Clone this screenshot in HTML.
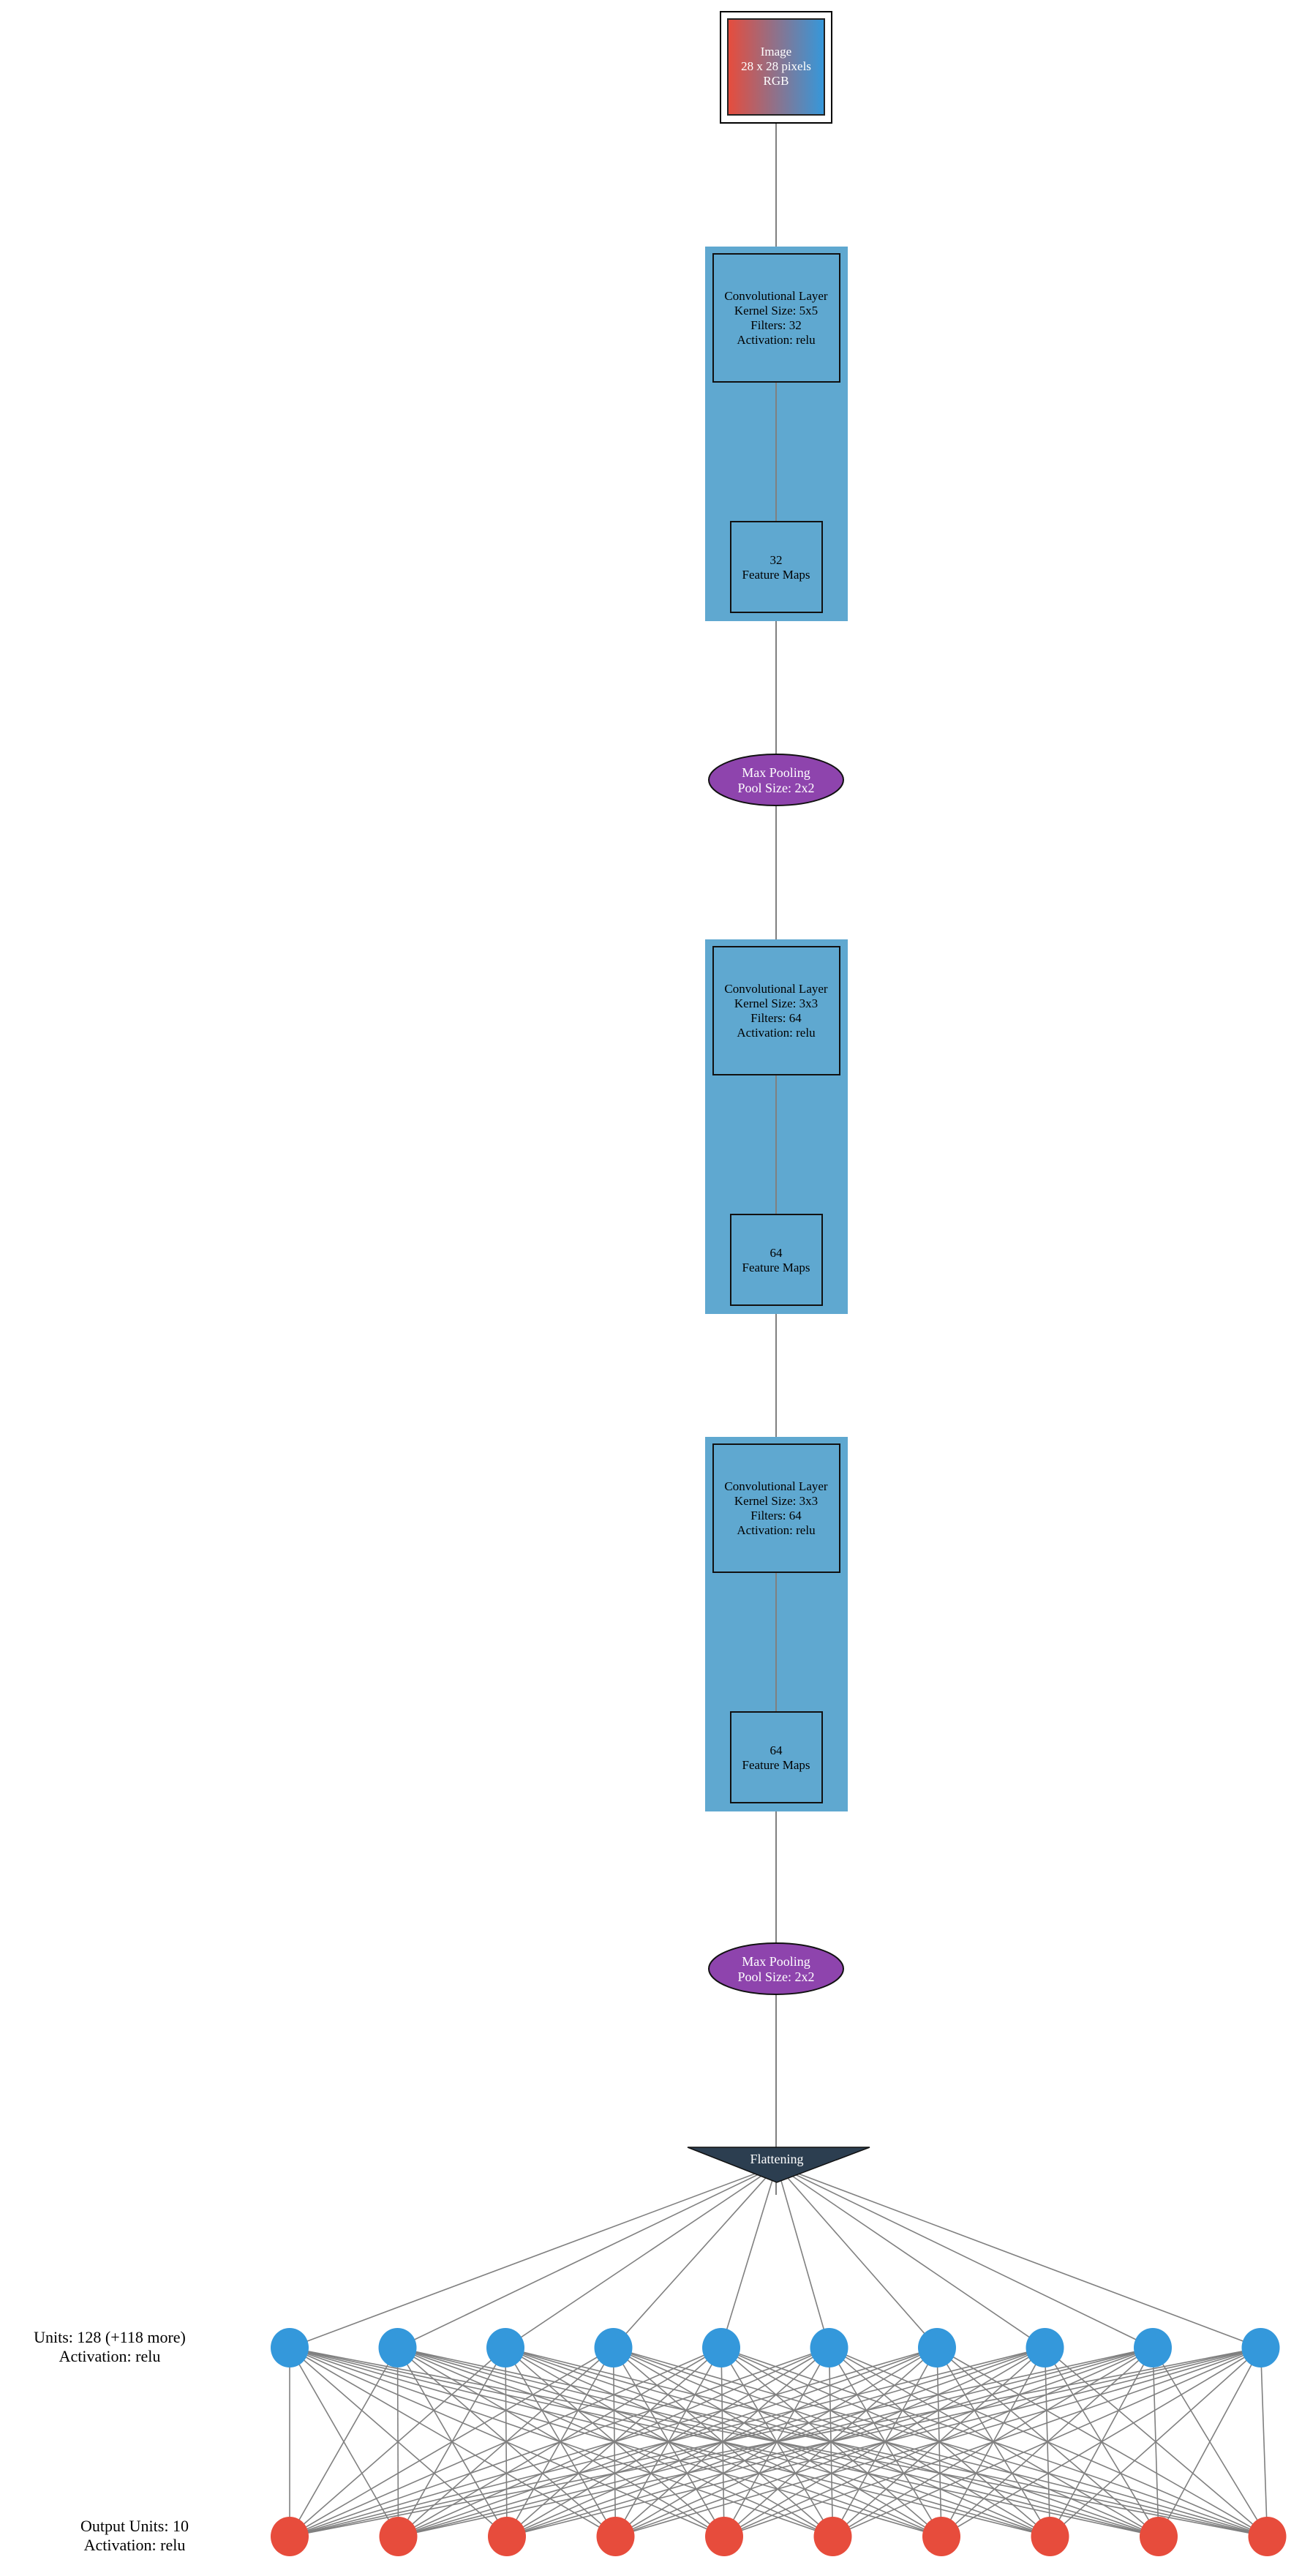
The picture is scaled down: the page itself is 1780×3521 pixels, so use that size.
<!DOCTYPE html>
<html><head><meta charset="utf-8"><style>
html,body{margin:0;padding:0;background:#fff}
svg{display:block}
text{font-family:"Liberation Serif",serif;text-anchor:middle}
</style></head><body>
<svg width="1780" height="3521" viewBox="0 0 1780 3521" xmlns="http://www.w3.org/2000/svg">
<defs>
<linearGradient id="g" x1="0" x2="1" y1="0" y2="0"><stop offset="0" stop-color="#e74c3c"/><stop offset="1" stop-color="#3498db"/></linearGradient>
</defs>
<g stroke="#808080" stroke-width="2">
<line x1="1061" y1="168" x2="1061" y2="3000"/>
</g>
<rect x="985" y="16" width="152" height="152" fill="#fff" stroke="#000" stroke-width="2"/>
<rect x="995" y="26" width="132" height="131" fill="url(#g)" stroke="#222" stroke-width="2"/>
<g fill="#fff" font-size="17"><text x="1061" y="76">Image</text><text x="1061" y="96">28 x 28 pixels</text><text x="1061" y="116">RGB</text></g>

<g>
<rect x="964" y="337" width="195" height="512" fill="#5fa8d0"/>
<line x1="1061" y1="523" x2="1061" y2="715" stroke="#808080" stroke-width="2"/>
<rect x="975" y="347" width="173" height="175" fill="#5fa8d0" stroke="#111" stroke-width="2"/>
<rect x="999" y="713" width="125" height="124" fill="#5fa8d0" stroke="#111" stroke-width="2"/>
<g font-size="17" fill="#000"><text x="1061" y="410">Convolutional Layer</text><text x="1061" y="430">Kernel Size: 5x5</text><text x="1061" y="450">Filters: 32</text><text x="1061" y="470">Activation: relu</text>
<text x="1061" y="771">32</text><text x="1061" y="791">Feature Maps</text></g>
</g>
<g transform="translate(0,947)">
<rect x="964" y="337" width="195" height="512" fill="#5fa8d0"/>
<line x1="1061" y1="523" x2="1061" y2="715" stroke="#808080" stroke-width="2"/>
<rect x="975" y="347" width="173" height="175" fill="#5fa8d0" stroke="#111" stroke-width="2"/>
<rect x="999" y="713" width="125" height="124" fill="#5fa8d0" stroke="#111" stroke-width="2"/>
<g font-size="17" fill="#000"><text x="1061" y="410">Convolutional Layer</text><text x="1061" y="430">Kernel Size: 3x3</text><text x="1061" y="450">Filters: 64</text><text x="1061" y="470">Activation: relu</text>
<text x="1061" y="771">64</text><text x="1061" y="791">Feature Maps</text></g>
</g>
<g transform="translate(0,1627)">
<rect x="964" y="337" width="195" height="512" fill="#5fa8d0"/>
<line x1="1061" y1="523" x2="1061" y2="715" stroke="#808080" stroke-width="2"/>
<rect x="975" y="347" width="173" height="175" fill="#5fa8d0" stroke="#111" stroke-width="2"/>
<rect x="999" y="713" width="125" height="124" fill="#5fa8d0" stroke="#111" stroke-width="2"/>
<g font-size="17" fill="#000"><text x="1061" y="410">Convolutional Layer</text><text x="1061" y="430">Kernel Size: 3x3</text><text x="1061" y="450">Filters: 64</text><text x="1061" y="470">Activation: relu</text>
<text x="1061" y="771">64</text><text x="1061" y="791">Feature Maps</text></g>
</g>

<ellipse cx="1061" cy="1066" rx="92" ry="35" fill="#8e44ad" stroke="#111" stroke-width="2"/>
<g fill="#fff" font-size="18"><text x="1061" y="1062">Max Pooling</text><text x="1061" y="1083">Pool Size: 2x2</text></g>
<ellipse cx="1061" cy="2691" rx="92" ry="35" fill="#8e44ad" stroke="#111" stroke-width="2"/>
<g fill="#fff" font-size="18"><text x="1061" y="2687">Max Pooling</text><text x="1061" y="2708">Pool Size: 2x2</text></g>

<g stroke="#808080" stroke-width="1.6" id="edges"></g>
<polygon points="940,2935 1189,2935 1062,2983" fill="#2c3e50" stroke="#111" stroke-width="1.5"/>
<text x="1062" y="2957" fill="#fff" font-size="18">Flattening</text>
<g id="nodes"></g>
<g font-size="22" fill="#000"><text x="150" y="3202">Units: 128 (+118 more)</text><text x="150" y="3228">Activation: relu</text>
<text x="184" y="3460">Output Units: 10</text><text x="184" y="3486">Activation: relu</text></g>
<script>
var ns="http://www.w3.org/2000/svg",e=document.getElementById("edges"),n=document.getElementById("nodes");
function L(a,b,c,d){var l=document.createElementNS(ns,"line");l.setAttribute("x1",a);l.setAttribute("y1",b);l.setAttribute("x2",c);l.setAttribute("y2",d);e.appendChild(l);}
function C(x,y,f){var c=document.createElementNS(ns,"ellipse");c.setAttribute("cx",x);c.setAttribute("cy",y);c.setAttribute("rx",26);c.setAttribute("ry",27);c.setAttribute("fill",f);n.appendChild(c);}
var H=[],O=[];for(var i=0;i<10;i++){H.push(396+147.5*i);O.push(396+148.5*i);}
for(var i=0;i<10;i++){L(1062,2960,H[i],3209);for(var j=0;j<10;j++)L(H[i],3209,O[j],3467);}
for(var i=0;i<10;i++){C(H[i],3209,"#3498db");C(O[i],3467,"#e74c3c");}
</script>
</svg>
</body></html>
